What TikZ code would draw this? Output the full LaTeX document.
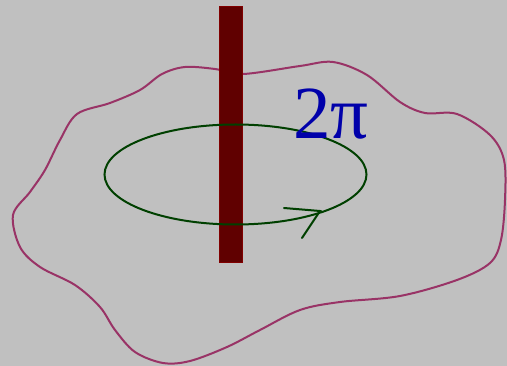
\documentclass[tikz,border=0pt]{standalone}
\usepackage{fontspec}
\setmainfont{Liberation Serif}
\definecolor{bggray}{HTML}{C0C0C0}
\definecolor{blobred}{HTML}{993366}
\definecolor{wirefill}{HTML}{600000}
\definecolor{wireedge}{HTML}{800000}
\definecolor{loopgreen}{HTML}{004000}
\definecolor{labelblue}{HTML}{0000AA}

\begin{document}
\begin{tikzpicture}[x=1pt, y=-1pt,
    blob/.style={draw=blobred, line width=2pt},
    loopline/.style={draw=loopgreen, line width=2pt, line cap=round}]
    \fill[bggray] (0,0) rectangle (507,366);
    \useasboundingbox (0,0) rectangle (507,366);
    % surface bounded by the loop
    \draw[blob] plot[smooth cycle, tension=0.55] coordinates {
        (185,67) (215,69) (243,74) (300,66) (333,62) (367,75) (400,102)
        (425,113) (457,114) (490,135) (504,160) (505,200) (501,240)
        (490,263) (457,280) (400,296) (340,302) (300,310) (260,330)
        (227,347) (190,361) (163,363) (135,352) (115,330) (100,307)
        (75,285) (40,267) (20,247) (13,215) (30,192) (45,170) (60,140)
        (77,114) (110,103) (140,90) (162,74)};
    % the wire
    \draw[draw=wireedge, fill=wirefill, line width=1pt] (219.5,6.5) rectangle (242.5,262.5);
    % the loop and its direction
    \draw[loopline] (235.5,174.5) ellipse (131 and 50);
    \coordinate (tip) at (320,211);
    \draw[loopline] (284,208) -- (tip) -- (302,238);
    \node[anchor=base west, inner sep=0pt, text=labelblue,
        font=\fontsize{75}{75}\selectfont] (angle) at (293,139) {2π};
\end{tikzpicture}
\end{document}
